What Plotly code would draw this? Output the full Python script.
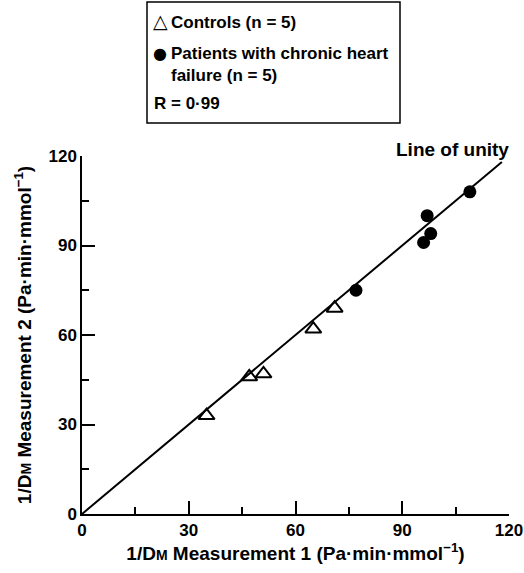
import plotly.graph_objects as go

# Data
controls_x = [35, 47, 51, 65, 71]
controls_y = [33, 46, 47, 62, 69]
patients_x = [77, 96, 98, 97, 109]
patients_y = [75, 91, 94, 100, 108]
unity_x = [0, 118]
unity_y = [0, 118]
tick_vals = [0, 30, 60, 90, 120]

W, H = 524, 573
L, R, T, B = 82, 15, 156, 59
PW, PH = W - L - R, H - T - B
FONT = "Liberation Sans, Arial, sans-serif"


def px(xp):
    return (xp - L) / PW


def py(yp):
    return (H - B - yp) / PH


fig = go.Figure()
fig.add_trace(go.Scatter(x=unity_x, y=unity_y, mode="lines",
                         line=dict(color="black", width=2), showlegend=False))
fig.add_trace(go.Scatter(x=controls_x, y=controls_y, mode="markers",
                         marker=dict(symbol="triangle-up-open", size=14, color="black",
                                     line=dict(width=2, color="black")),
                         showlegend=False))
fig.add_trace(go.Scatter(x=patients_x, y=patients_y, mode="markers",
                         marker=dict(symbol="circle", size=13, color="black"),
                         showlegend=False))

axis_common = dict(
    range=[0, 120], tickvals=tick_vals, ticks="inside", ticklen=13, tickwidth=1.5,
    tickcolor="black", showline=True, linecolor="black", linewidth=1.5,
    showgrid=False, zeroline=False, mirror=False,
    tickfont=dict(family=FONT, size=17, color="black", weight="bold"),
    minor=dict(dtick=15, ticks="inside", ticklen=7, tickwidth=1.5, tickcolor="black"),
)

sm = "<span style='font-size:14px'>M</span>"
title_font = dict(family=FONT, size=19, color="black", weight="bold")
fig.update_xaxes(**axis_common,
                 title=dict(text=f"1/D{sm} Measurement 1 (Pa·min·mmol<sup>−1</sup>)",
                            font=title_font, standoff=1))
fig.update_yaxes(**axis_common,
                 title=dict(text=f"1/D{sm} Measurement 2 (Pa·min·mmol<sup>−1</sup>)",
                            font=title_font, standoff=12))

tf = dict(family=FONT, size=17, color="black", weight="bold")
annotations = [
    dict(x=px(452), y=py(149), xref="paper", yref="paper", text="Line of unity",
         showarrow=False, font=dict(family=FONT, size=19, color="black", weight="bold"),
         xanchor="center", yanchor="middle"),
    dict(x=px(160), y=py(21), xref="paper", yref="paper", text="△",
         showarrow=False, font=dict(family="DejaVu Sans", size=19, color="black"),
         xanchor="center", yanchor="middle"),
    dict(x=px(169), y=py(22), xref="paper", yref="paper", text="Controls (n = 5)",
         showarrow=False, font=tf, xanchor="left", yanchor="middle"),
    dict(x=px(160), y=py(54), xref="paper", yref="paper", text="●",
         showarrow=False, font=dict(family="DejaVu Sans", size=16, color="black"),
         xanchor="center", yanchor="middle"),
    dict(x=px(169), y=py(65), xref="paper", yref="paper",
         text="Patients with chronic heart<br>failure (n = 5)",
         showarrow=False, font=tf, xanchor="left", yanchor="middle", align="left"),
    dict(x=px(152), y=py(103), xref="paper", yref="paper", text="R = 0·99",
         showarrow=False, font=tf, xanchor="left", yanchor="middle"),
]

shapes = [
    dict(type="rect", xref="paper", yref="paper", x0=px(147), x1=px(400),
         y0=py(123), y1=py(2), line=dict(color="black", width=1.5)),
]

fig.update_layout(
    width=W, height=H, margin=dict(l=L, r=R, t=T, b=B, autoexpand=False),
    plot_bgcolor="white", paper_bgcolor="white",
    annotations=annotations, shapes=shapes, showlegend=False,
    font=dict(family=FONT, color="black"),
)

fig.write_html("out.html", config={"displayModeBar": False},
               post_script="document.body.style.margin='0';document.body.style.overflow='hidden';")
